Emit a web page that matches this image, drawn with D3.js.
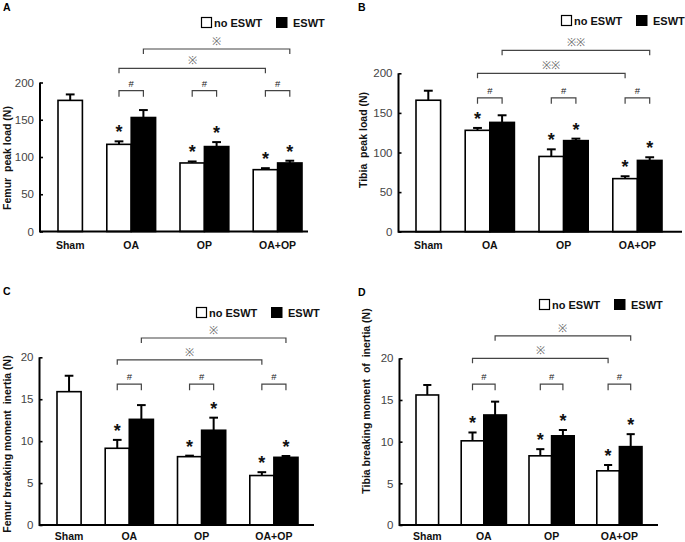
<!DOCTYPE html>
<html>
<head>
<meta charset="utf-8">
<script src="https://cdn.jsdelivr.net/npm/d3@7"></script>
<style>
  body { margin: 0; background: #fff; }
  svg text { font-family: Arial, "Liberation Sans", sans-serif; }
</style>
</head>
<body>
<div id="chart"></div>
<script>
// groups and series
const categories = ["Sham", "OA", "OP", "OA+OP"];
const seriesNames = ["no ESWT", "ESWT"];

// A: femur peak load (N)
const femurLoadNo = [176, 117, 92, 83];
const femurLoadNoErr = [8, 4, 2, 2];
const femurLoadE = [null, 153, 114, 92];
const femurLoadEErr = [null, 10, 6, 3];

// B: tibia peak load (N)
const tibiaLoadNo = [166, 128, 95, 67];
const tibiaLoadNoErr = [12, 3, 9, 3];
const tibiaLoadE = [null, 138, 115, 90];
const tibiaLoadEErr = [null, 9, 2.5, 4];

// C: femur breaking moment inertia
const femurInertiaNo = [15.9, 9.15, 8.15, 5.9];
const femurInertiaNoErr = [1.9, 1.0, 0.12, 0.4];
const femurInertiaE = [null, 12.6, 11.3, 8.07];
const femurInertiaEErr = [null, 1.7, 1.5, 0.16];

// D: tibia breaking moment of inertia
const tibiaInertiaNo = [15.6, 10.1, 8.3, 6.5];
const tibiaInertiaNoErr = [1.2, 1.0, 0.8, 0.7];
const tibiaInertiaE = [null, 13.2, 10.7, 9.4];
const tibiaInertiaEErr = [null, 1.6, 0.7, 1.5];

// significance marks (same in all four panels)
const starNo = [false, true, true, true];
const starE = [null, false, true, true];

const loadTicks = [0, 50, 100, 150, 200];
const inertiaTicks = [0, 5, 10, 15, 20];

// bracket heights in data units: [upper ※, lower ※, #]
const femurLoadBrackets = [245, 219, 189];
const tibiaLoadBrackets = [229, 200, 169];
const femurInertiaBrackets = [22.3, 19.7, 16.8];
const tibiaInertiaBrackets = [22.7, 20, 16.9];

const W = 685, H = 542;
const FONT = 'Arial, "Liberation Sans", sans-serif';

const svg = d3.select("#chart").append("svg")
  .attr("width", W)
  .attr("height", H)
  .attr("viewBox", [0, 0, W, H]);

const panels = [
  {
    letter: "A", lx: 3, ly: 11,
    title: "Femur  peak load (N)", titleX: 11, titleY: 158,
    no: femurLoadNo, noErr: femurLoadNoErr, e: femurLoadE, eErr: femurLoadEErr,
    ticks: loadTicks, brackets: femurLoadBrackets, sym: "※",
    axisX: 40, barsX0: 58, barsX1: 302, axisX1: 308, yTop: 82.5, yBottom: 231.5,
    legX: 201, legY: 17, catDy: 17
  },
  {
    letter: "B", lx: 358, ly: 11,
    title: "Tibia  peak load (N)", titleX: 367, titleY: 140,
    no: tibiaLoadNo, noErr: tibiaLoadNoErr, e: tibiaLoadE, eErr: tibiaLoadEErr,
    ticks: loadTicks, brackets: tibiaLoadBrackets, sym: "※※",
    axisX: 398.5, barsX0: 416, barsX1: 662, axisX1: 682, yTop: 73.3, yBottom: 231.7,
    legX: 561, legY: 15, catDy: 17
  },
  {
    letter: "C", lx: 3, ly: 295,
    title: "Femur breaking moment  inertia (N)", titleX: 10.5, titleY: 444,
    no: femurInertiaNo, noErr: femurInertiaNoErr, e: femurInertiaE, eErr: femurInertiaEErr,
    ticks: inertiaTicks, brackets: femurInertiaBrackets, sym: "※",
    axisX: 39.5, barsX0: 57, barsX1: 298, axisX1: 314, yTop: 357.3, yBottom: 525,
    legX: 196, legY: 307, catDy: 15
  },
  {
    letter: "D", lx: 358, ly: 296,
    title: "Tibia breaking moment  of  inertia (N)", titleX: 370, titleY: 401,
    no: tibiaInertiaNo, noErr: tibiaInertiaNoErr, e: tibiaInertiaE, eErr: tibiaInertiaEErr,
    ticks: inertiaTicks, brackets: tibiaInertiaBrackets, sym: "※",
    axisX: 399.5, barsX0: 416, barsX1: 642, axisX1: 658, yTop: 358.3, yBottom: 525,
    legX: 539, legY: 299, catDy: 15
  }
];

panels.forEach(drawPanel);

function drawPanel(p) {
  const g = svg.append("g");

  // bar slots: one per bar plus a gap slot between groups
  const slots = [];
  categories.forEach((c, i) => {
    if (i > 0) slots.push("gap" + i);
    slots.push(c + "|no");
    if (p.e[i] != null) slots.push(c + "|e");
  });

  const x = d3.scaleBand().domain(slots).range([p.barsX0, p.barsX1]).padding(0);
  const y = d3.scaleLinear()
    .domain([0, d3.max(p.ticks)])
    .range([p.yBottom, p.yTop]);

  const bars = [];
  categories.forEach((c, i) => {
    bars.push({ key: c + "|no", v: p.no[i], err: p.noErr[i], fill: "#fff", star: starNo[i] });
    if (p.e[i] != null) bars.push({ key: c + "|e", v: p.e[i], err: p.eErr[i], fill: "#000", star: starE[i] });
  });
  const cx = (k) => x(k) + x.bandwidth() / 2;

  // error bars (upper only)
  const capW = x.bandwidth() * 0.36;
  bars.forEach(d => {
    g.append("line")
      .attr("x1", cx(d.key)).attr("x2", cx(d.key))
      .attr("y1", y(d.v)).attr("y2", y(d.v + d.err))
      .attr("stroke", "#000").attr("stroke-width", 2);
    g.append("line")
      .attr("x1", cx(d.key) - capW / 2).attr("x2", cx(d.key) + capW / 2)
      .attr("y1", y(d.v + d.err)).attr("y2", y(d.v + d.err))
      .attr("stroke", "#000").attr("stroke-width", 2);
  });

  g.selectAll("rect.bar")
    .data(bars)
    .join("rect")
    .attr("class", "bar")
    .attr("x", d => x(d.key))
    .attr("y", d => y(d.v))
    .attr("width", x.bandwidth())
    .attr("height", d => y(0) - y(d.v))
    .attr("fill", d => d.fill)
    .attr("stroke", "#000")
    .attr("stroke-width", 1.6);

  // asterisks
  g.selectAll("text.star")
    .data(bars.filter(d => d.star))
    .join("text")
    .attr("class", "star")
    .attr("x", d => cx(d.key))
    .attr("y", d => y(d.v + d.err) - 3)
    .attr("text-anchor", "middle")
    .attr("font-size", 18)
    .attr("font-weight", 700)
    .attr("fill", "#111")
    .text("*");

  // y axis
  const yAxis = d3.axisLeft(y)
    .tickValues(p.ticks)
    .tickSize(-3)
    .tickPadding(6)
    .tickFormat(d3.format("d"));
  const ga = g.append("g")
    .attr("transform", `translate(${p.axisX},0)`)
    .call(yAxis);
  ga.select(".domain").remove();
  ga.selectAll(".tick line").attr("stroke", "#000").attr("stroke-width", 1.6);
  ga.selectAll(".tick text")
    .attr("font-family", FONT)
    .attr("font-size", 11.5)
    .attr("fill", "#444");
  g.append("line")
    .attr("x1", p.axisX).attr("x2", p.axisX)
    .attr("y1", y(d3.max(p.ticks))).attr("y2", y(0) + 1)
    .attr("stroke", "#000").attr("stroke-width", 2);

  // x axis baseline
  g.append("line")
    .attr("x1", p.axisX).attr("x2", p.axisX1)
    .attr("y1", y(0)).attr("y2", y(0))
    .attr("stroke", "#000").attr("stroke-width", 2);

  // category labels
  categories.forEach((c, i) => {
    const keys = [c + "|no"];
    if (p.e[i] != null) keys.push(c + "|e");
    const mid = d3.mean(keys.map(k => cx(k)));
    g.append("text")
      .attr("x", mid)
      .attr("y", y(0) + p.catDy)
      .attr("text-anchor", "middle")
      .attr("font-size", 10.5)
      .attr("font-weight", 700)
      .attr("fill", "#111")
      .text(c);
  });

  // y title
  g.append("text")
    .attr("transform", `translate(${p.titleX},${p.titleY}) rotate(-90)`)
    .attr("text-anchor", "middle")
    .attr("font-size", 10.5)
    .attr("font-weight", 700)
    .attr("fill", "#111")
    .style("white-space", "pre")
    .text(p.title);

  // panel letter
  g.append("text")
    .attr("x", p.lx).attr("y", p.ly)
    .attr("font-size", 10.5)
    .attr("font-weight", 700)
    .text(p.letter);

  // legend
  const leg = g.append("g").attr("transform", `translate(${p.legX},${p.legY})`);
  leg.append("rect").attr("x", 0.5).attr("y", 0.5).attr("width", 10).attr("height", 10)
    .attr("fill", "#fff").attr("stroke", "#000").attr("stroke-width", 1.2);
  leg.append("text").attr("x", 13).attr("y", 9.8)
    .attr("font-size", 11).attr("font-weight", 700).attr("fill", "#111")
    .text(seriesNames[0]);
  leg.append("rect").attr("x", 75).attr("y", 0).attr("width", 11.5).attr("height", 11)
    .attr("fill", "#000");
  leg.append("text").attr("x", 92).attr("y", 9.8)
    .attr("font-size", 11).attr("font-weight", 700).attr("fill", "#111")
    .text(seriesNames[1]);

  // significance brackets
  const bracket = (x1, x2, level, label, leg, labelSize, labelColor) => {
    const yy = y(level);
    g.append("path")
      .attr("d", `M${x1},${yy + leg}V${yy}H${x2}V${yy + leg}`)
      .attr("fill", "none")
      .attr("stroke", "#444")
      .attr("stroke-width", 1.2);
    g.append("text")
      .attr("x", (x1 + x2) / 2)
      .attr("y", yy - 4)
      .attr("text-anchor", "middle")
      .attr("font-size", labelSize)
      .attr("fill", labelColor)
      .text(label);
  };
  const [upper, lower, hashLevel] = p.brackets;
  bracket(cx("OA|e"), cx("OA+OP|e"), upper, p.sym, 5, 11, "#666");
  bracket(cx("OA|no"), cx("OA+OP|no"), lower, p.sym, 5, 11, "#666");
  categories.slice(1).forEach(c => {
    bracket(cx(c + "|no"), cx(c + "|e"), hashLevel, "#", 6, 9.5, "#222");
  });
}
</script>
</body>
</html>
